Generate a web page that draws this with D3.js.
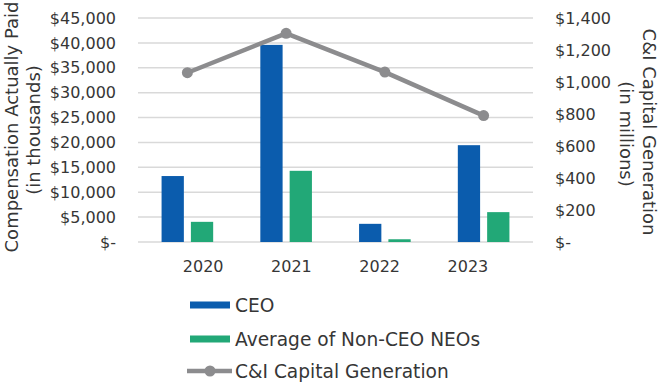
<!DOCTYPE html>
<html>
<head>
<meta charset="utf-8">
<script src="https://cdn.jsdelivr.net/npm/d3@7"></script>
<style>
  html, body { margin: 0; padding: 0; background: #fff; }
  svg { display: block; font-family: "DejaVu Sans", sans-serif; }
</style>
</head>
<body>
<svg id="chart" width="661" height="382"></svg>
<script>
// ---- data ----
const years = ["2020", "2021", "2022", "2023"];
const seriesNames = ["CEO", "Average of Non-CEO NEOs"];
const ceoValues = [13250, 39600, 3650, 19450];
const neoValues = [4050, 14300, 550, 6000];
const capGenValues = [1058, 1304, 1062, 790];
const leftTicks = [0, 5000, 10000, 15000, 20000, 25000, 30000, 35000, 40000, 45000];
const rightTicks = [0, 200, 400, 600, 800, 1000, 1200, 1400];
const lineName = "C&I Capital Generation";

const colors = { CEO: "#0B5CAD", "Average of Non-CEO NEOs": "#22A877" };
const lineColor = "#8C8C8E";
const textColor = "#363636";

const svg = d3.select("#chart");
const plot = { left: 138, right: 533, top: 18, bottom: 242 };

const x = d3.scaleBand().domain(years).range([plot.left, plot.right]).padding(0);
const bw = x.bandwidth();
const xSub = d3.scaleBand().domain(seriesNames)
  .range([bw / 2 - 25.8, bw / 2 + 25.8]).paddingInner(0.24);
const yL = d3.scaleLinear().domain([0, 45000]).range([plot.bottom, plot.top]);
const yR = d3.scaleLinear().domain([0, 1400]).range([plot.bottom, plot.top]);
// labels sit slightly offset from the bar groups in the reference
const xLabel = d3.scaleBand().domain(years).range([159, 512]).padding(0);

// grid
svg.append("g").selectAll("line").data(leftTicks).join("line")
  .attr("x1", plot.left).attr("x2", plot.right)
  .attr("y1", d => yL(d)).attr("y2", d => yL(d))
  .attr("stroke", "#d9d9d9").attr("stroke-width", 1.5);

const fmtL = d => d === 0 ? "$-" : "$" + d3.format(",")(d);

// left axis
const gL = svg.append("g").attr("transform", `translate(${plot.left},0)`)
  .call(d3.axisLeft(yL).tickValues(leftTicks).tickFormat(fmtL).tickSize(0).tickPadding(22));
gL.select(".domain").remove();
gL.selectAll("text").attr("fill", textColor).style("font-size", "16px")
  .style("font-family", "'DejaVu Sans', sans-serif");

// right axis
const gR = svg.append("g").attr("transform", `translate(${plot.right},0)`)
  .call(d3.axisRight(yR).tickValues(rightTicks).tickFormat(fmtL).tickSize(0).tickPadding(22));
gR.select(".domain").remove();
gR.selectAll("text").attr("fill", textColor).style("font-size", "16px")
  .style("font-family", "'DejaVu Sans', sans-serif");

// bottom axis labels
const gB = svg.append("g").attr("transform", `translate(0,${plot.bottom})`)
  .call(d3.axisBottom(xLabel).tickSize(0).tickPadding(19));
gB.select(".domain").remove();
gB.selectAll("text").attr("fill", textColor).style("font-size", "16px")
  .style("font-family", "'DejaVu Sans', sans-serif");

// bars
const rows = years.map((yr, i) => ({ year: yr, vals: [
  { s: seriesNames[0], v: ceoValues[i] },
  { s: seriesNames[1], v: neoValues[i] }
]}));
svg.append("g").selectAll("g").data(rows).join("g")
  .attr("transform", d => `translate(${x(d.year)},0)`)
  .selectAll("rect").data(d => d.vals).join("rect")
  .attr("x", d => xSub(d.s)).attr("width", xSub.bandwidth())
  .attr("y", d => yL(d.v)).attr("height", d => yL(0) - yL(d.v))
  .attr("fill", d => colors[d.s]);

// line
const pts = years.map((yr, i) => [x(yr) + bw / 2, yR(capGenValues[i])]);
svg.append("path").datum(pts)
  .attr("d", d3.line())
  .attr("fill", "none").attr("stroke", lineColor).attr("stroke-width", 4.5)
  .attr("stroke-linejoin", "round");
svg.append("g").selectAll("circle").data(pts).join("circle")
  .attr("cx", d => d[0]).attr("cy", d => d[1]).attr("r", 5.5).attr("fill", lineColor);

// axis titles
function title(txt, tx, ty, rot) {
  svg.append("text").attr("transform", `translate(${tx},${ty}) rotate(${rot})`)
    .attr("text-anchor", "middle").attr("dominant-baseline", "central")
    .attr("fill", textColor).style("font-size", "18px").text(txt);
}
title("Compensation Actually Paid", 11, 127, -90);
title("(in thousands)", 33, 130, -90);
title("C&I Capital Generation", 649, 132, 90);
title("(in millions)", 626, 134, 90);

// legend
const legend = svg.append("g");
const legItems = [
  { name: seriesNames[0], type: "rect", y: 305 },
  { name: seriesNames[1], type: "rect", y: 339 },
  { name: lineName, type: "line", y: 371 }
];
legItems.forEach(it => {
  if (it.type === "rect") {
    legend.append("rect").attr("x", 190).attr("y", it.y - 3.5).attr("width", 40).attr("height", 7)
      .attr("fill", colors[it.name]);
  } else {
    legend.append("line").attr("x1", 187).attr("x2", 232).attr("y1", it.y).attr("y2", it.y)
      .attr("stroke", lineColor).attr("stroke-width", 4.5);
    legend.append("circle").attr("cx", 210).attr("cy", it.y).attr("r", 5.5).attr("fill", lineColor);
  }
  legend.append("text").attr("x", 235).attr("y", it.y).attr("dominant-baseline", "central")
    .attr("fill", textColor).style("font-size", "18.6px").text(it.name);
});
</script>
</body>
</html>
